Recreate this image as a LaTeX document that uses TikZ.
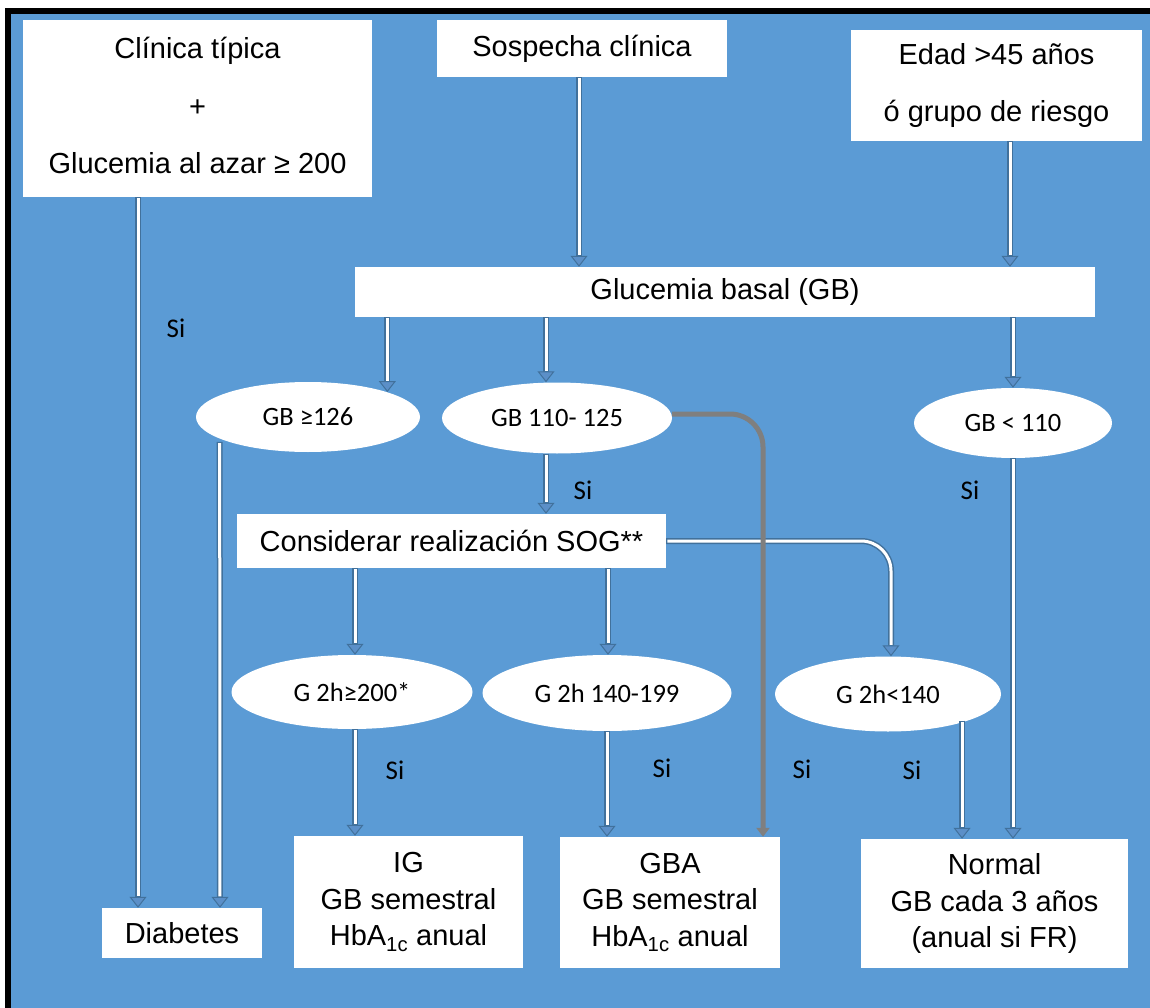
\documentclass[tikz,border=0pt]{standalone}
\usepackage{fontspec}
\setmainfont{Liberation Sans}
\newfontfamily\calfont{Carlito}
\usetikzlibrary{arrows.meta,shapes.geometric}
\definecolor{bg}{HTML}{5B9BD5}
\definecolor{arrdark}{HTML}{41719C}
\definecolor{arrfill}{HTML}{5B8FC8}
\definecolor{grayline}{HTML}{7F7F7F}
\tikzset{
 box/.style={fill=white, draw=none, inner sep=0pt, align=center, font=\fontsize{29}{36.5}\selectfont},
 oval/.style={ellipse, fill=white, draw=none, inner sep=0pt, font=\calfont\fontsize{26.5}{30}\selectfont},
 silabel/.style={font=\calfont\fontsize{27}{30}\selectfont, inner sep=0pt},
 outerarr/.style={line width=6pt, draw=arrdark, -{Triangle[length=11pt,width=17pt,line width=1pt,fill=arrfill]}},
 innerarr/.style={line width=3pt, draw=white, shorten >=11.5pt, shorten <=1.2pt},
 grayarr/.style={line width=5pt, draw=grayline, rounded corners=33pt, -{Triangle[length=9pt,width=13pt]}},
}
\newcommand{\darr}[1]{\draw[outerarr] #1; \draw[innerarr] #1;}
\begin{document}
\begin{tikzpicture}[x=1pt,y=-1pt]
\useasboundingbox (0,0) rectangle (1150,1008);
\fill[white] (0,0) rectangle (1150,1008);
\fill[black] (5,8) rectangle (1150,1008);
\fill[bg] (11,14) rectangle (1150,1008);

% boxes
\node[box, minimum width=349pt, minimum height=177pt, font=\fontsize{29}{57.5}\selectfont] (clin) at (197.5,108.5) {Clínica típica\\+\\Glucemia al azar ≥ 200\rule[-6pt]{0pt}{1pt}};
\node[box, minimum width=290pt, minimum height=57pt] (sosp) at (582,48.5) {Sospecha clínica};
\node[box, minimum width=291pt, minimum height=111pt, font=\fontsize{29}{57}\selectfont] (edad) at (996.5,85.5) {Edad >45 años\\ó grupo de riesgo};
\node[box, minimum width=740pt, minimum height=50pt] (gb) at (725,292) {Glucemia basal (GB)};

% ellipses row 1
\node[oval, minimum width=224pt, minimum height=70pt] (e1) at (308,417) {GB ≥126};
\node[oval, minimum width=230pt, minimum height=71pt] (e2) at (557,418) {GB 110- 125};
\node[oval, minimum width=198pt, minimum height=70pt] (e3) at (1013,423) {GB < 110};

\node[box, minimum width=429pt, minimum height=54pt] (cons) at (451.5,541) {Considerar realización SOG**};

% ellipses row 2
\node[oval, minimum width=241pt, minimum height=74pt] (f1) at (352,692) {G 2h≥200*};
\node[oval, minimum width=249pt, minimum height=76pt] (f2) at (607,693) {G 2h 140-199};
\node[oval, minimum width=226pt, minimum height=75pt] (f3) at (888,694) {G 2h<140};

% bottom boxes
\node[box, minimum width=160pt, minimum height=50pt] (diab) at (182,933) {Diabetes};
\node[box, minimum width=229pt, minimum height=132pt] (ig) at (408.5,902) {IG\\GB semestral\\HbA\textsubscript{1c} anual};
\node[box, minimum width=220pt, minimum height=131pt] (gba) at (670,902.5) {GBA\\GB semestral\\HbA\textsubscript{1c} anual};
\node[box, minimum width=267pt, minimum height=129pt] (norm) at (994.5,903.5) {Normal\\GB cada 3 años\\(anual si FR)};

\coordinate (f3s) at ([xshift=-6]f3.south east);
\coordinate (gtop) at ([xshift=93]gba.north);
\coordinate (gstart) at ([yshift=4]e2.east);

% connectors
\darr{([xshift=-59.5]clin.south) -- ([xshift=-44]diab.north)}
\darr{([xshift=-3]sosp.south) -- ([xshift=-146]gb.north)}
\darr{([xshift=13.5]edad.south) -- ([xshift=285]gb.north)}
\darr{(gb.south -| e1.north east) -- (e1.north east)}
\darr{([xshift=-179]gb.south) -- ([xshift=-11]e2.north)}
\darr{(gb.south -| e3.north) -- (e3.north)}
\darr{([xshift=-9]e1.south west) -- ([xshift=38]diab.north)}
\darr{([xshift=-11]e2.south) -- ([xshift=94.5]cons.north)}
\darr{(e3.south) -- (norm.north -| e3.south)}
\darr{([xshift=-96.5]cons.south) -- ([xshift=3]f1.north)}
\darr{([xshift=156.5]cons.south) -- ([xshift=1]f2.north)}
\darr{[rounded corners=30pt] (cons.east) -- ([xshift=3]cons.east -| f3.north) -- ([xshift=3]f3.north)}
\darr{([xshift=3]f1.south) -- ([xshift=-53.5]ig.north)}
\darr{(f2.south) -- ([xshift=-63]gba.north)}
\darr{(f3s) -- (norm.north -| f3s)}
\draw[grayarr] (gstart) -- (gstart -| gtop) -- (gtop);

% labels
\node[silabel] (s1) at (176,328) {Si};
\node[silabel] (s2) at (583,490) {Si};
\node[silabel] (s3) at (970,490) {Si};
\node[silabel] (s4) at (395,770) {Si};
\node[silabel] (s5) at (662,768) {Si};
\node[silabel] (s6) at (802,769) {Si};
\node[silabel] (s7) at (912,770) {Si};
\end{tikzpicture}
\end{document}
